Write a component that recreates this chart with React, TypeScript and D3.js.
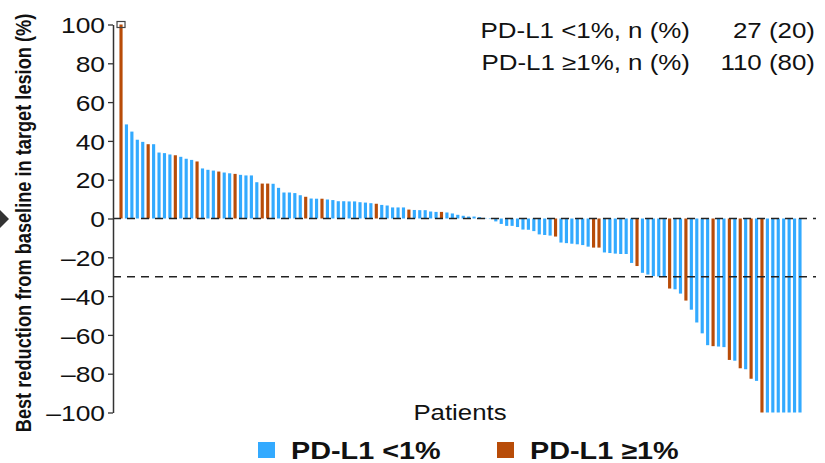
import React, { useRef, useEffect } from "react";
import * as d3 from "d3";

// best % change from baseline per patient, sorted (waterfall)
const values = [
  100, 48.5, 44.8, 40.6, 39.5, 38.3, 38.3, 34.0, 33.7, 33.0,
  32.6, 31.8, 30.8, 30.2, 29.4, 25.8, 25.1, 24.7, 24.2, 23.7,
  23.3, 23.0, 22.5, 22.2, 22.2, 18.7, 18.0, 18.0, 17.9, 15.8,
  13.4, 13.4, 13.1, 12.0, 11.2, 10.3, 10.2, 10.2, 9.8, 9.5,
  8.9, 8.9, 8.8, 8.8, 8.4, 8.2, 7.9, 7.6, 7.0, 6.7,
  5.7, 5.7, 5.7, 4.6, 4.4, 4.3, 4.3, 3.6, 3.4, 3.4,
  3.1, 2.6, 1.9, 1.4, 1.0, 1.0, 0.7, 0.3, -0.3, -1.5,
  -2.8, -3.8, -3.8, -4.4, -5.7, -5.8, -6.5, -8.2, -8.5, -8.8,
  -9.3, -12.4, -12.7, -13.0, -13.3, -13.7, -14.5, -15.0, -15.0, -17.5,
  -17.8, -18.1, -18.3, -18.3, -22.9, -24.5, -28.0, -28.9, -29.7, -29.9,
  -29.9, -36.1, -36.5, -38.7, -42.3, -47.0, -53.6, -59.2, -65.3, -65.8,
  -66.0, -66.3, -72.9, -73.3, -77.2, -77.7, -82.6, -83.7, -100, -100,
  -100, -100, -100, -100, -100, -100,
];

// patient numbers (1-based) with PD-L1 >=1%
const highPatients = [
  1, 6, 11, 15, 19, 22, 27, 28, 35, 38, 48, 54, 60, 81, 88, 89, 96, 102,
  105, 110, 113, 115, 117, 119,
];

const yTicks = [-100, -80, -60, -40, -20, 0, 20, 40, 60, 80, 100];
const refLines = [0, -30];
const legendLabels = ["PD-L1 <1%", "PD-L1 ≥1%"];
const summaryLabels = ["PD-L1 <1%, n (%)", "PD-L1 ≥1%, n (%)"];
const summaryValues = ["27 (20)", "110 (80)"];

const BLUE = "#33aaff";
const ORANGE = "#b84c08";
const FONT = "'Liberation Sans', Arial, sans-serif";
const SX = 1.2; // glyphs in the source are a bit wide

const Waterfall = () => {
  const ref = useRef(null);

  useEffect(() => {
    const svg = d3.select(ref.current);
    svg.selectAll("*").remove();

    const width = 825;
    const height = 463;
    svg.attr("width", width).attr("height", height);

    const y = d3.scaleLinear().domain([-100, 100]).range([412.5, 24.5]);
    const x = d3.scaleBand()
      .domain(d3.range(values.length))
      .range([118.3, 802.7])
      .paddingInner(0.42)
      .paddingOuter(0.21);

    const color = d3.scaleOrdinal().domain(["lo", "hi"]).range([BLUE, ORANGE]);
    const grp = (i) => (highPatients.includes(i + 1) ? "hi" : "lo");

    // bars
    svg.append("g")
      .selectAll("rect")
      .data(values)
      .enter()
      .append("rect")
      .attr("x", (d, i) => x(i))
      .attr("width", x.bandwidth())
      .attr("y", (d) => Math.min(y(d), y(0)))
      .attr("height", (d) => Math.abs(y(d) - y(0)))
      .attr("fill", (d, i) => color(grp(i)));

    // marker on top of the first bar
    svg.append("rect")
      .attr("x", x(0) + x.bandwidth() / 2 - 4)
      .attr("y", y(values[0]) - 3)
      .attr("width", 8)
      .attr("height", 6)
      .attr("fill", "none")
      .attr("stroke", "#444")
      .attr("stroke-width", 1.2);

    // dashed reference lines
    svg.append("g")
      .selectAll("line")
      .data(refLines)
      .enter()
      .append("line")
      .attr("x1", 113)
      .attr("x2", 816)
      .attr("y1", (d) => y(d))
      .attr("y2", (d) => y(d))
      .attr("stroke", "#222")
      .attr("stroke-width", 1.4)
      .attr("stroke-dasharray", "8,6");

    // y axis
    const axis = svg.append("g")
      .attr("transform", "translate(113,0)")
      .call(
        d3.axisLeft(y)
          .tickValues(yTicks)
          .tickSize(5)
          .tickSizeOuter(0)
          .tickFormat((d) => (d < 0 ? "\u2013" + Math.abs(d) : String(d)))
      );
    axis.select(".domain").attr("stroke", "#333").attr("stroke-width", 1.5);
    axis.selectAll(".tick line").attr("stroke", "#333").attr("stroke-width", 1.3);
    axis.selectAll(".tick text")
      .attr("x", -8 / SX)
      .attr("dy", "0.37em")
      .attr("transform", `scale(${SX},1)`)
      .attr("fill", "#111")
      .style("font-family", FONT)
      .style("font-size", "22px");

    const stretched = (g, tx, ty, str, opts) => {
      g.append("text")
        .attr("transform", `translate(${tx},${ty}) scale(${SX},1)${opts.rotate ? " rotate(-90)" : ""}`)
        .attr("text-anchor", opts.anchor || "start")
        .attr("fill", "#111")
        .style("font-family", FONT)
        .style("font-size", opts.size)
        .style("font-weight", opts.bold ? "bold" : "normal")
        .text(str);
    };

    // axis titles
    stretched(svg, 31, 223, "Best reduction from baseline in target lesion (%)", {
      anchor: "middle", size: "18.2px", bold: true, rotate: true,
    });
    stretched(svg, 460, 420, "Patients", { anchor: "middle", size: "21.5px" });

    // summary top right
    summaryLabels.forEach((s, i) => {
      stretched(svg, 690, 38 + i * 32, s, { anchor: "end", size: "21.6px" });
      stretched(svg, 815, 38 + i * 32, summaryValues[i], { anchor: "end", size: "21.6px" });
    });

    // legend
    const legendX = [258, 497];
    legendLabels.forEach((s, i) => {
      svg.append("rect")
        .attr("x", legendX[i])
        .attr("y", 442)
        .attr("width", 17)
        .attr("height", 16)
        .attr("fill", color(i === 0 ? "lo" : "hi"));
      stretched(svg, legendX[i] + 33, 459, s, { size: "24px", bold: true });
    });

    // arrow at the left edge
    svg.append("path")
      .attr("d", "M0,210 L9,219 L0,228 Z")
      .attr("fill", "#333");
  }, []);

  return (
    <svg
      ref={ref}
      style={{ position: "absolute", left: 0, top: 0, background: "#fff", display: "block" }}
    ></svg>
  );
};

export default function App() {
  return <Waterfall />;
}
